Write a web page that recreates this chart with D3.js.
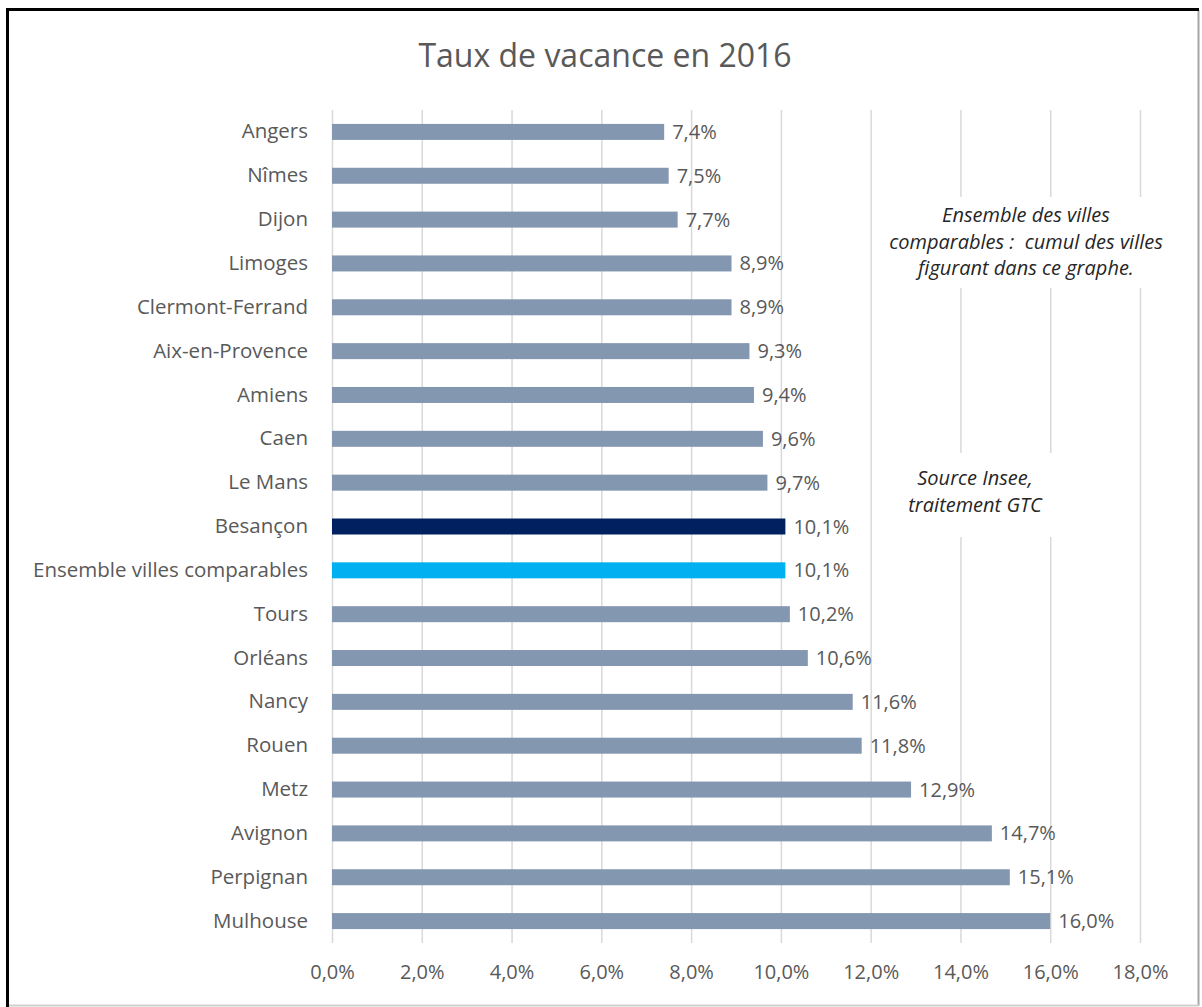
<!DOCTYPE html>
<html>
<head>
<meta charset="utf-8">
<script src="https://cdn.jsdelivr.net/npm/d3@7"></script>
<style>
  body { margin: 0; background: #fff; }
  svg { display: block; }
</style>
</head>
<body>
<div id="chart-area"></div>
<script>
var villes = ["Angers", "Nîmes", "Dijon", "Limoges", "Clermont-Ferrand", "Aix-en-Provence",
    "Amiens", "Caen", "Le Mans", "Besançon", "Ensemble villes comparables", "Tours",
    "Orléans", "Nancy", "Rouen", "Metz", "Avignon", "Perpignan", "Mulhouse"];
var taux = [7.4, 7.5, 7.7, 8.9, 8.9, 9.3, 9.4, 9.6, 9.7, 10.1, 10.1, 10.2,
    10.6, 11.6, 11.8, 12.9, 14.7, 15.1, 16.0];
var ticks = [0, 2, 4, 6, 8, 10, 12, 14, 16, 18];
var note1 = ["Ensemble des villes", "comparables :  cumul des villes", "figurant dans ce graphe."];
var note2 = ["Source Insee,", "traitement GTC"];

var W = 1202, H = 1007;
var margin = {top: 110, right: 62, bottom: 64, left: 332},
    width = W - margin.left - margin.right,
    height = H - margin.top - margin.bottom;
var font = "'Open Sans', Lato, sans-serif";
var textColor = "#595959";

function fmt(v) {
    return v.toFixed(1).replace(".", ",") + "%";
}
function barColor(d) {
    if (d === "Besançon") return "#002060";
    if (d === "Ensemble villes comparables") return "#00B0F0";
    return "#8497B0";
}

var svg = d3.select("#chart-area").append("svg")
    .attr("width", W)
    .attr("height", H);

// cadre
svg.append("line").attr("x1", 1198.5).attr("y1", 10).attr("x2", 1198.5).attr("y2", 1006)
    .attr("stroke", "#a6a6a6").attr("stroke-width", 2);
svg.append("line").attr("x1", 8).attr("y1", 1005.5).attr("x2", 1199).attr("y2", 1005.5)
    .attr("stroke", "#d0d0d0").attr("stroke-width", 2);
svg.append("path").attr("d", "M7.5,1007 V9.5 H1199")
    .attr("fill", "none").attr("stroke", "#000").attr("stroke-width", 3);

svg.append("text")
    .attr("x", 605)
    .attr("y", 67)
    .attr("text-anchor", "middle")
    .style("font-family", font)
    .style("font-size", "32px")
    .attr("fill", textColor)
    .text("Taux de vacance en 2016");

var g = svg.append("g")
    .attr("transform", "translate(" + margin.left + "," + margin.top + ")");

var xScale = d3.scaleLinear()
    .domain([0, 18])
    .range([0, width]);
var yScale = d3.scaleBand()
    .domain(villes)
    .range([0, height])
    .paddingInner(0.635)
    .paddingOuter(0.3175);

// grille
g.append("g")
    .call(d3.axisBottom(xScale).tickValues(ticks).tickSize(height).tickFormat(""))
    .call(function (a) {
        a.select(".domain").remove();
        a.selectAll("line").attr("stroke", "#d9d9d9").attr("stroke-width", 1.5);
    });

// axe des x
g.append("g")
    .attr("transform", "translate(0," + height + ")")
    .call(d3.axisBottom(xScale).tickValues(ticks).tickSize(0).tickPadding(22).tickFormat(fmt))
    .call(function (a) {
        a.select(".domain").remove();
        a.selectAll("text").style("font-family", font).style("font-size", "20px").attr("fill", textColor);
    });

// axe des y
g.append("g")
    .call(d3.axisLeft(yScale).tickSize(0).tickPadding(24))
    .call(function (a) {
        a.select(".domain").remove();
        a.selectAll("text").style("font-family", font).style("font-size", "20.5px").attr("fill", textColor);
    });

// notes
function note(lines, cx, y0, box) {
    g.append("rect")
        .attr("x", box[0] - margin.left).attr("y", box[1] - margin.top)
        .attr("width", box[2]).attr("height", box[3])
        .attr("fill", "#fff");
    g.append("text")
        .attr("text-anchor", "middle")
        .style("font-family", font)
        .style("font-size", "20px")
        .style("font-style", "italic")
        .style("white-space", "pre")
        .attr("fill", "#262626")
        .selectAll("tspan")
        .data(lines)
        .enter()
        .append("tspan")
        .attr("x", cx - margin.left)
        .attr("y", function (d, i) { return y0 - margin.top + i * 26.5; })
        .text(function (d) { return d; });
}
note(note1, 1026, 222, [878, 197, 295, 91]);
note(note2, 975, 485, [885, 453, 200, 84]);

// barres
g.selectAll(".bar")
    .data(villes)
    .enter()
    .append("rect")
    .attr("class", "bar")
    .attr("x", xScale(0))
    .attr("y", function (d) { return yScale(d); })
    .attr("width", function (d, i) { return xScale(taux[i]) - xScale(0); })
    .attr("height", yScale.bandwidth())
    .attr("fill", barColor);

// étiquettes
g.selectAll(".label")
    .data(villes)
    .enter()
    .append("text")
    .attr("class", "label")
    .attr("x", function (d, i) { return xScale(taux[i]) + 8; })
    .attr("y", function (d) { return yScale(d) + yScale.bandwidth() / 2; })
    .attr("dy", "0.35em")
    .style("font-family", font)
    .style("font-size", "20px")
    .attr("fill", textColor)
    .text(function (d, i) { return fmt(taux[i]); });
</script>
</body>
</html>
